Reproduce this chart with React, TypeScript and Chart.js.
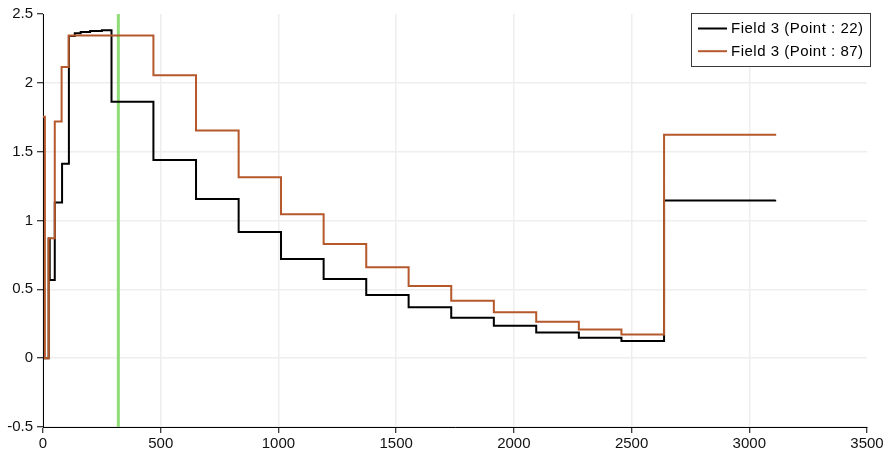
import React, { useEffect, useRef } from "react";
import { Chart, registerables } from "chart.js";

Chart.register(...registerables);

// ---- data (step functions: each x is where the level y begins) ----
const seriesLabels = ["Field 3 (Point : 22)", "Field 3 (Point : 87)"];

const point22X = [0, 24, 28.5, 50, 81, 110, 135, 160, 200, 250, 291, 469, 650, 831, 1011, 1192, 1373, 1553, 1734, 1915, 2095, 2276, 2457, 2638, 3110];
const point22Y = [0, 0.87, 0.567, 1.13, 1.412, 2.34, 2.36, 2.37, 2.376, 2.382, 1.862, 1.44, 1.157, 0.917, 0.72, 0.575, 0.458, 0.369, 0.293, 0.235, 0.187, 0.148, 0.124, 1.145, 1.15];

const point87X = [0, 8, 24, 50, 79, 109, 469, 650, 831, 1011, 1192, 1373, 1553, 1734, 1915, 2095, 2276, 2457, 2638, 3110];
const point87Y = [1.754, 0, 0.871, 1.72, 2.115, 2.343, 2.055, 1.654, 1.315, 1.046, 0.83, 0.66, 0.524, 0.417, 0.333, 0.264, 0.209, 0.172, 1.623, 1.616];

const timeMarkerX = 320;

const xMin = 0;
const xMax = 3500;
const xStep = 500;
const yMin = -0.5;
const yMax = 2.5;
const yStep = 0.5;

const seriesColors = ["#000000", "#b5582c"];
const markerColor = "#8fdc78";
const FONT = '"Liberation Sans", Arial, sans-serif';

const toPoints = (xs: number[], ys: number[]) => xs.map((x, i) => ({ x, y: ys[i] }));

const boxLegend = {
  id: "boxLegend",
  afterDraw(chart: any) {
    const ctx = chart.ctx as CanvasRenderingContext2D;
    const area = chart.chartArea;
    const w = 179;
    const h = 53;
    const left = Math.round(area.right - w + 3) + 0.5;
    const top = 13.5;
    ctx.save();
    ctx.fillStyle = "#ffffff";
    ctx.fillRect(left, top, w, h);
    ctx.strokeStyle = "#3a3a3a";
    ctx.lineWidth = 1;
    ctx.strokeRect(left, top, w, h);
    ctx.font = "15px " + FONT;
    ctx.textBaseline = "middle";
    ctx.textAlign = "left";
    try { (ctx as any).letterSpacing = "0.5px"; } catch (e) {}
    seriesLabels.forEach((label, i) => {
      const y = top + 15 + i * 22.7;
      ctx.strokeStyle = seriesColors[i];
      ctx.lineWidth = 2;
      ctx.beginPath();
      ctx.moveTo(left + 6.5, y);
      ctx.lineTo(left + 35.5, y);
      ctx.stroke();
      ctx.fillStyle = "#000";
      ctx.fillText(label, left + 39.5, y + 0.5);
    });
    ctx.restore();
  },
};

export default function App() {
  const ref = useRef<HTMLCanvasElement | null>(null);

  useEffect(() => {
    if (!ref.current) return;
    const gridColor = "#eeeeee";
    const chart = new Chart(ref.current, {
      type: "line",
      data: {
        datasets: [
          {
            label: seriesLabels[0],
            data: toPoints(point22X, point22Y),
            borderColor: seriesColors[0],
            borderWidth: 2,
            pointRadius: 0,
            stepped: "before",
            fill: false,
            order: 2,
          },
          {
            label: seriesLabels[1],
            data: toPoints(point87X, point87Y),
            borderColor: seriesColors[1],
            borderWidth: 2,
            pointRadius: 0,
            stepped: "before",
            fill: false,
            order: 1,
          },
          {
            label: "time",
            data: [
              { x: timeMarkerX, y: yMin },
              { x: timeMarkerX, y: yMax },
            ],
            borderColor: markerColor,
            borderWidth: 3,
            pointRadius: 0,
            fill: false,
            order: 3,
          },
        ],
      },
      options: {
        animation: false,
        responsive: false,
        maintainAspectRatio: false,
        parsing: false as any,
        layout: { padding: { top: 14, right: 22, left: 0, bottom: 0 } },
        plugins: {
          legend: { display: false },
          tooltip: { enabled: false },
        },
        scales: {
          x: {
            type: "linear",
            min: xMin,
            max: xMax,
            ticks: {
              stepSize: xStep,
              color: "#111",
              font: { size: 15, family: FONT },
              padding: 2,
              maxRotation: 0,
              autoSkip: false,
              callback: (v: any) => String(v),
            },
            grid: {
              color: (c: any) => (c.tick && c.tick.value === xMax ? "rgba(0,0,0,0)" : gridColor),
              lineWidth: 1.5,
              tickColor: "#000",
              tickLength: 6,
              tickWidth: 1,
            },
            border: { color: "#000", width: 1 },
            afterFit: (s: any) => {
              s.height = 25;
            },
          },
          y: {
            type: "linear",
            min: yMin,
            max: yMax,
            ticks: {
              stepSize: yStep,
              color: "#111",
              font: { size: 15, family: FONT },
              padding: 4,
              callback: (v: any) => String(v),
            },
            grid: {
              color: (c: any) => (c.tick && c.tick.value === yMax ? "rgba(0,0,0,0)" : gridColor),
              lineWidth: 1.5,
              tickColor: "#000",
              tickLength: 6,
              tickWidth: 1,
            },
            border: { color: "#000", width: 1 },
            afterFit: (s: any) => {
              s.width = 43;
            },
          },
        },
      },
      plugins: [boxLegend],
    });
    return () => chart.destroy();
  }, []);

  return (
    <div style={{ position: "fixed", left: 0, top: 0, width: 889, height: 452, background: "#fff" }}>
      <canvas ref={ref} width={889} height={452} style={{ width: 889, height: 452, display: "block" }} />
    </div>
  );
}
